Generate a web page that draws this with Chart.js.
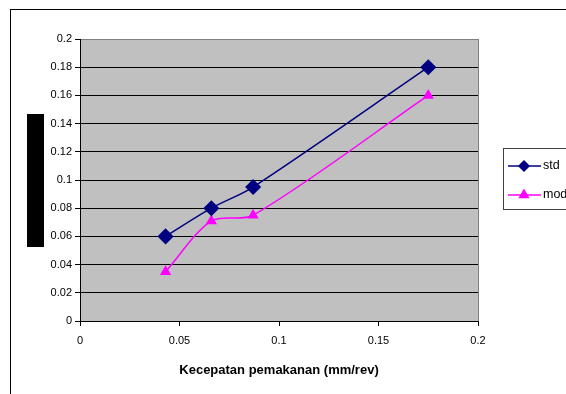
<!DOCTYPE html>
<html>
<head>
<meta charset="utf-8">
<script src="https://cdn.jsdelivr.net/npm/chart.js@4"></script>
<style>
  html, body { margin: 0; padding: 0; background: #fff; }
  #wrap { width: 566px; height: 394px; }
</style>
</head>
<body>
<div id="wrap"><canvas id="chart" width="566" height="394"></canvas></div>
<script>
var feedRate = [0.043, 0.066, 0.087, 0.175];
var stdValues = [0.06, 0.08, 0.095, 0.18];
var modValues = [0.035, 0.071, 0.075, 0.16];
var seriesNames = ['std', 'mod'];
var xTickLabels = ['0', '0.05', '0.1', '0.15', '0.2'];
var yTickLabels = ['0', '0.02', '0.04', '0.06', '0.08', '0.1', '0.12', '0.14', '0.16', '0.18', '0.2'];
var xTitle = 'Kecepatan pemakanan (mm/rev)';

function toPoints(xs, ys) {
    return xs.map(function (x, i) { return { x: x, y: ys[i] }; });
}

var framePlugin = {
    id: 'frame',
    beforeDraw: function (chart) {
        var ctx = chart.ctx, a = chart.chartArea;
        ctx.save();
        ctx.fillStyle = '#ffffff';
        ctx.fillRect(0, 0, chart.width, chart.height);
        ctx.strokeStyle = '#000000';
        ctx.lineWidth = 1;
        ctx.strokeRect(10.5, 9.5, 700, 500);
        ctx.fillStyle = '#c0c0c0';
        ctx.fillRect(a.left, a.top, a.right - a.left, a.bottom - a.top);
        // redacted y axis title block
        ctx.fillStyle = '#000000';
        ctx.fillRect(27, 114, 17, 133);
        ctx.restore();
    },
    afterDraw: function (chart) {
        var ctx = chart.ctx;
        ctx.save();
        ctx.strokeStyle = '#404040';
        ctx.lineWidth = 1;
        ctx.strokeRect(503.5, 148.5, 120, 61);
        var rows = [166, 195];
        chart.data.datasets.forEach(function (ds, i) {
            var y = rows[i];
            ctx.strokeStyle = ds.borderColor;
            ctx.lineWidth = 1.5;
            ctx.beginPath();
            ctx.moveTo(508, y);
            ctx.lineTo(541, y);
            ctx.stroke();
            ctx.fillStyle = ds.backgroundColor;
            ctx.strokeStyle = ds.borderColor;
            Chart.helpers.drawPoint(ctx, {
                pointStyle: ds.pointStyle,
                rotation: 0,
                radius: 5,
                borderWidth: 1
            }, 524, y);
            ctx.fillStyle = '#000000';
            ctx.font = '12.5px "Liberation Sans", Arial, sans-serif';
            ctx.textBaseline = 'middle';
            ctx.textAlign = 'left';
            ctx.fillText(ds.label, 543, y);
        });
        ctx.restore();
    }
};

new Chart(document.getElementById('chart').getContext('2d'), {
    type: 'line',
    data: {
        datasets: [{
            label: seriesNames[0],
            data: toPoints(feedRate, stdValues),
            borderColor: '#000080',
            backgroundColor: '#000080',
            borderWidth: 1.5,
            pointStyle: 'rectRot',
            pointRadius: 7,
            tension: 0.3,
            fill: false
        }, {
            label: seriesNames[1],
            data: toPoints(feedRate, modValues),
            borderColor: '#ff00ff',
            backgroundColor: '#ff00ff',
            borderWidth: 1.5,
            pointStyle: 'triangle',
            pointRadius: 5,
            tension: 0.3,
            fill: false
        }]
    },
    options: {
        responsive: false,
        animation: false,
        events: [],
        layout: { padding: { left: 0, right: 88, top: 39, bottom: 0 } },
        plugins: {
            legend: { display: false },
            tooltip: { enabled: false }
        },
        scales: {
            x: {
                type: 'linear',
                min: 0,
                max: 0.2,
                afterFit: function (s) { s.height = 73; },
                afterBuildTicks: function (s) {
                    s.ticks = xTickLabels.map(function (t) { return { value: parseFloat(t) }; });
                },
                ticks: {
                    color: '#000',
                    font: { family: '"Liberation Sans", Arial, sans-serif', size: 11 },
                    padding: 8,
                    maxRotation: 0,
                    callback: function (v, i) { return xTickLabels[i]; }
                },
                grid: {
                    color: function (c) { return c.tick && c.tick.value === 0.2 ? '#808080' : 'rgba(0,0,0,0)'; },
                    tickColor: '#000',
                    tickLength: 5
                },
                border: { color: '#000', width: 1 },
                title: {
                    display: true,
                    text: xTitle,
                    color: '#000',
                    font: { family: '"Liberation Sans", Arial, sans-serif', size: 13, weight: 'bold' },
                    padding: { top: 4, bottom: 16 }
                }
            },
            y: {
                type: 'linear',
                min: 0,
                max: 0.2,
                afterFit: function (s) { s.width = 80; },
                afterBuildTicks: function (s) {
                    s.ticks = yTickLabels.map(function (t) { return { value: parseFloat(t) }; });
                },
                ticks: {
                    color: '#000',
                    font: { family: '"Liberation Sans", Arial, sans-serif', size: 11 },
                    padding: 3,
                    callback: function (v, i) { return yTickLabels[i]; }
                },
                grid: {
                    color: function (c) { return c.tick && c.tick.value === 0.2 ? '#808080' : '#000000'; },
                    tickColor: '#000',
                    tickLength: 5
                },
                border: { color: '#000', width: 1 }
            }
        }
    },
    plugins: [framePlugin]
});
</script>
</body>
</html>
